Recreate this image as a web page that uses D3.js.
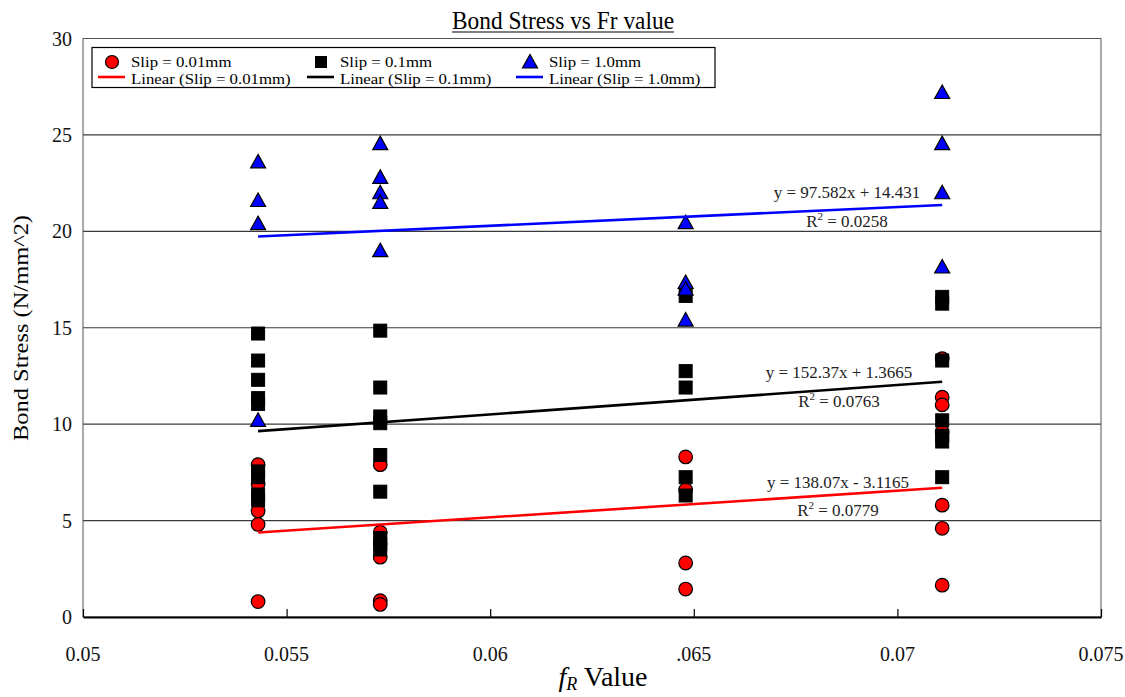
<!DOCTYPE html>
<html>
<head>
<meta charset="utf-8">
<script src="https://cdn.jsdelivr.net/npm/d3@7"></script>
<style>
  body { margin: 0; background: #fff; }
  svg text { font-family: "Liberation Serif", "Times New Roman", "DejaVu Serif", serif; }
</style>
</head>
<body>
<svg id="chart" width="1125" height="697"></svg>
<script>
// fR values of the four specimen groups
const fRValues = [0.0543, 0.0573, 0.0648, 0.0711];

// bond stress (N/mm^2) per group
const slip001 = [
    [7.9, 6.9, 5.5, 4.8, 0.8],
    [7.9, 4.4, 3.1, 0.85, 0.65],
    [8.3, 6.6, 2.8, 1.45],
    [13.4, 11.4, 11.0, 9.6, 5.8, 4.6, 1.65]
];
const slip01 = [
    [14.7, 13.3, 12.3, 11.35, 11.05, 7.55, 7.25, 6.35, 6.05],
    [14.85, 11.9, 10.4, 10.05, 8.4, 6.5, 4.1, 3.8, 3.5],
    [16.65, 12.75, 11.9, 7.25, 6.3],
    [16.6, 16.25, 13.3, 10.2, 9.4, 9.1, 7.25]
];
const slip10 = [
    [23.6, 21.6, 20.4, 10.2],
    [24.55, 22.8, 22.0, 21.5, 19.0],
    [20.45, 17.35, 17.0, 15.4],
    [27.2, 24.55, 22.0, 18.15]
];

// linear fits shown on the chart
const seriesNames = ["Slip = 0.01mm", "Slip = 0.1mm", "Slip = 1.0mm"];
const seriesColors = ["#ff0000", "#000000", "#0000ff"];
const slopes = [138.07, 152.37, 97.582];
const intercepts = [-3.1165, 1.3665, 14.431];
const equations = ["y = 138.07x - 3.1165", "y = 152.37x + 1.3665", "y = 97.582x + 14.431"];
const r2Values = ["0.0779", "0.0763", "0.0258"];

const xTicks = [0.05, 0.055, 0.06, 0.065, 0.07, 0.075];
const xTickLabels = ["0.05", "0.055", "0.06", ".065", "0.07", "0.075"];
const yTicks = [0, 5, 10, 15, 20, 25, 30];

const svg = d3.select("#chart");
const serif = "Liberation Serif, Times New Roman, serif";
const margin = { left: 83, right: 1101, top: 38.5, bottom: 617 };

const x = d3.scaleLinear().domain([0.05, 0.075]).range([margin.left, margin.right]);
const y = d3.scaleLinear().domain([0, 30]).range([margin.bottom, margin.top]);

// gridlines
svg.append("g")
    .selectAll("line")
    .data(yTicks.filter(d => d > 0))
    .join("line")
    .attr("x1", margin.left).attr("x2", margin.right)
    .attr("y1", d => y(d)).attr("y2", d => y(d))
    .attr("stroke", "#3a3a3a")
    .attr("stroke-width", 1.2);

// plot frame
svg.append("rect")
    .attr("x", margin.left).attr("y", margin.top)
    .attr("width", margin.right - margin.left)
    .attr("height", margin.bottom - margin.top)
    .attr("fill", "none")
    .attr("stroke", "#555")
    .attr("stroke-width", 1);

// x axis with inward ticks
const xAxis = svg.append("g")
    .attr("transform", `translate(0, ${margin.bottom})`)
    .call(d3.axisBottom(x).tickValues(xTicks).tickSizeInner(-8).tickSizeOuter(0).tickFormat(""));
xAxis.select(".domain").attr("stroke", "#000").attr("stroke-width", 2);
xAxis.selectAll(".tick line").attr("stroke", "#000").attr("stroke-width", 1.2);

svg.append("g")
    .selectAll("text")
    .data(xTicks)
    .join("text")
    .attr("x", d => x(d))
    .attr("y", 661)
    .attr("text-anchor", "middle")
    .attr("font-family", serif)
    .attr("font-size", 20)
    .attr("fill", "#111")
    .text((d, i) => xTickLabels[i]);

// y tick labels
svg.append("g")
    .selectAll("text")
    .data(yTicks)
    .join("text")
    .attr("x", 72)
    .attr("y", d => y(d) + 7)
    .attr("text-anchor", "end")
    .attr("font-family", serif)
    .attr("font-size", 20)
    .attr("fill", "#111")
    .text(d => d);

// axis titles
const xTitle = svg.append("text")
    .attr("x", 603)
    .attr("y", 686)
    .attr("text-anchor", "middle")
    .attr("font-family", serif)
    .attr("font-size", 28);
xTitle.append("tspan").attr("font-style", "italic").text("f");
xTitle.append("tspan").attr("font-style", "italic").attr("font-size", 18).attr("dy", 4).text("R");
xTitle.append("tspan").attr("dy", -4).text(" Value");

svg.append("text")
    .attr("transform", "translate(28, 328) rotate(-90)")
    .attr("text-anchor", "middle")
    .attr("font-family", serif)
    .attr("font-size", 21)
    .attr("textLength", 226)
    .attr("lengthAdjust", "spacingAndGlyphs")
    .text("Bond Stress (N/mm^2)");

// chart title, underlined
svg.append("text")
    .attr("x", 563)
    .attr("y", 29)
    .attr("text-anchor", "middle")
    .attr("font-family", serif)
    .attr("font-size", 26)
    .attr("textLength", 222)
    .attr("lengthAdjust", "spacingAndGlyphs")
    .text("Bond Stress vs Fr value");
svg.append("line")
    .attr("x1", 452).attr("x2", 674)
    .attr("y1", 32).attr("y2", 32)
    .attr("stroke", "#000").attr("stroke-width", 1.2);

// marker helpers
const triPath = (cx, cy) => `M${cx},${cy - 7.5}L${cx + 7.5},${cy + 6}L${cx - 7.5},${cy + 6}Z`;

function flatten(groups) {
    return groups.flatMap((vals, i) => vals.map(v => ({ x: fRValues[i], y: v })));
}

const marks = svg.append("g");

marks.selectAll("circle")
    .data(flatten(slip001))
    .join("circle")
    .attr("cx", d => x(d.x))
    .attr("cy", d => y(d.y))
    .attr("r", 6.8)
    .attr("fill", "#ff0000")
    .attr("stroke", "#000")
    .attr("stroke-width", 1.2);

marks.selectAll("rect")
    .data(flatten(slip01))
    .join("rect")
    .attr("x", d => x(d.x) - 6.5)
    .attr("y", d => y(d.y) - 6.5)
    .attr("width", 13)
    .attr("height", 13)
    .attr("fill", "#000")
    .attr("stroke", "#000")
    .attr("stroke-width", 1);

marks.selectAll("path")
    .data(flatten(slip10))
    .join("path")
    .attr("d", d => triPath(x(d.x), y(d.y)))
    .attr("fill", "#0000ff")
    .attr("stroke", "#000")
    .attr("stroke-width", 1.2);

// trend lines across the data range
const xMin = d3.min(fRValues), xMax = d3.max(fRValues);
svg.append("g")
    .selectAll("line")
    .data(slopes)
    .join("line")
    .attr("x1", x(xMin))
    .attr("x2", x(xMax))
    .attr("y1", (m, i) => y(m * xMin + intercepts[i]))
    .attr("y2", (m, i) => y(m * xMax + intercepts[i]))
    .attr("stroke", (m, i) => seriesColors[i])
    .attr("stroke-width", 2.6);

// equation labels
const eqPos = [[838, 488, 516], [839, 378, 407], [847, 198, 227]];
equations.forEach((eq, i) => {
    const [cx, ey, ry] = eqPos[i];
    svg.append("text")
        .attr("x", cx).attr("y", ey)
        .attr("text-anchor", "middle")
        .attr("font-family", serif)
        .attr("font-size", 17)
        .attr("fill", "#222")
        .text(eq);
    const r = svg.append("text")
        .attr("x", cx).attr("y", ry)
        .attr("text-anchor", "middle")
        .attr("font-family", serif)
        .attr("font-size", 17)
        .attr("fill", "#222");
    r.append("tspan").text("R");
    r.append("tspan").attr("font-size", 11).attr("dy", -7).text("2");
    r.append("tspan").attr("dy", 7).text(" = " + r2Values[i]);
});

// legend
const legend = svg.append("g");
legend.append("rect")
    .attr("x", 92).attr("y", 47.5)
    .attr("width", 623).attr("height", 40)
    .attr("fill", "#fff")
    .attr("stroke", "#000")
    .attr("stroke-width", 1.2);

const legendX = [112, 321, 530];
seriesNames.forEach((name, i) => {
    const lx = legendX[i];
    if (i === 0) {
        legend.append("circle").attr("cx", lx).attr("cy", 62).attr("r", 6.5)
            .attr("fill", seriesColors[0]).attr("stroke", "#000").attr("stroke-width", 1.2);
    } else if (i === 1) {
        legend.append("rect").attr("x", lx - 6).attr("y", 56).attr("width", 12).attr("height", 12)
            .attr("fill", "#000");
    } else {
        legend.append("path").attr("d", triPath(lx, 62))
            .attr("fill", seriesColors[2]).attr("stroke", "#000").attr("stroke-width", 1.2);
    }
    legend.append("line")
        .attr("x1", lx - 14).attr("x2", lx + 13)
        .attr("y1", 77).attr("y2", 77)
        .attr("stroke", seriesColors[i]).attr("stroke-width", 2.6);
    // two rows, slightly widened to match the original face
    [[name, 67], [`Linear (${name})`, 84]].forEach(([label, ly]) => {
        const t = legend.append("text")
            .attr("x", lx + 19).attr("y", ly)
            .attr("font-family", serif)
            .attr("font-size", 15)
            .text(label);
        t.attr("textLength", t.node().getComputedTextLength() * 1.12)
            .attr("lengthAdjust", "spacingAndGlyphs");
    });
});
</script>
</body>
</html>
